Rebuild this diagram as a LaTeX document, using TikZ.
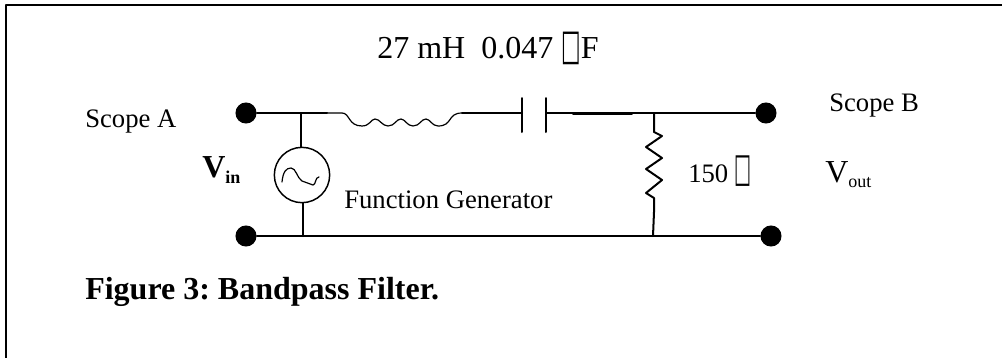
\documentclass[tikz,border=0pt]{standalone}
\usepackage{graphicx}
\usepackage{fontspec}
\setmainfont{Liberation Serif}
\newfontfamily\boxfont{DejaVu Sans}
\usepackage{tikz}
\newcommand{\boxglyph}[3]{\raisebox{#3}{\scalebox{#1}[#2]{\fontsize{10pt}{12pt}\boxfont\selectfont\symbol{"25A1}}}}
\tikzset{
  wire/.style={line width=1.5pt},
  thinwire/.style={line width=0.9pt},
  heavywire/.style={line width=2.2pt},
  terminal/.style={circle,fill=black,inner sep=0pt,minimum size=15.8pt},
  bigtext/.style={inner sep=0pt,anchor=base west,font=\fontsize{24pt}{26pt}\selectfont},
  smalltext/.style={inner sep=0pt,anchor=base west,font=\fontsize{20pt}{22pt}\selectfont},
}
\begin{document}
\begin{tikzpicture}[line cap=round,line join=round,x=0.75pt,y=-0.75pt]
\frenchspacing
\useasboundingbox (0,0) rectangle (1002,358);
\coordinate (corner) at (6,5);
\coordinate (topend) at (1002,5);
\coordinate (leftend) at (6,358);
\draw [line width=1.6pt,line cap=butt] (topend) -- (corner) -- (leftend);
% terminals
\node [terminal] (ina) at (246,113) {};
\node [terminal] (inb) at (246,236) {};
\node [terminal] (outa) at (766,113) {};
\node [terminal] (outb) at (771,236) {};
\node [circle,draw,line width=1.1pt,inner sep=0pt,minimum size=41.5pt] (gen) at (302,175) {};
\coordinate (topgen) at (301,113);
\coordinate (botgen) at (303,236);
\coordinate (lstart) at (327,113);
\coordinate (lend) at (462,113);
\coordinate (capl) at (522,113);
\coordinate (capr) at (546,113);
\coordinate (heavyl) at (573,113.5);
\coordinate (heavyr) at (632,113.5);
\coordinate (rtop) at (654,113);
\coordinate (rbot) at (653,236);
% wires
\draw [wire] (ina) -- (lstart);
\draw [wire] (topgen) -- (topgen |- gen.north);
\draw [wire] (botgen |- gen.south) -- (botgen);
\draw [wire] (inb) -- (outb);
\draw [wire] (lend) -- (capl);
\draw [wire] (capr) -- (outa);
\draw [heavywire] (heavyl) -- (heavyr);
\draw [wire] (rtop) -- (654,132) -- (662,136) -- (646,147) -- (662,158) -- (646,169) -- (662,180) -- (646,193) -- (654,198) -- (654,212) -- (rbot);
% capacitor plates
\draw [wire] (capl) ++(0,-15) -- ++(0,34);
\draw [wire] (capr) ++(0,-15) -- ++(0,34);
% inductor
\draw [thinwire] (lstart) -- (342,113) .. controls (350,113) and (348,126) .. (362,126) .. controls (370,126) and (371,119) .. (375,119) .. controls (380,119) and (382,126) .. (388,126) .. controls (395,126) and (396,119) .. (401,119) .. controls (405,119) and (407,126) .. (413,126) .. controls (420,126) and (421,119) .. (426,119) .. controls (430,119) and (432,126) .. (438,126) .. controls (453,126) and (447,113) .. (lend);
% generator wave
\draw [thinwire] (282,182) .. controls (283,172) and (286,168) .. (291,168) .. controls (296,168) and (297,178) .. (302,181) -- (313,185) .. controls (316,185) and (315,177) .. (319,177);
% labels
\node [bigtext] (value) at (377,58) {27 mH\ \ 0.047 \boxglyph{1.55}{3.2}{-1.05pt}F};
\node [smalltext] (scopea) at (85,127) {Scope A};
\node [smalltext] (scopeb) at (829,111) {Scope B};
\node [bigtext,font=\fontsize{24pt}{26pt}\selectfont\bfseries] (vin) at (202,177) {V\raisebox{-4.5pt}{\fontsize{13.5pt}{15pt}\selectfont in}};
\node [bigtext] (vout) at (825,182) {V\raisebox{-3.75pt}{\fontsize{13.5pt}{15pt}\selectfont out}};
\node [smalltext] (gentext) at (344,208) {Function Generator};
\node [smalltext] (ohm) at (688,182) {150 \boxglyph{1.35}{3.0}{0.45pt}};
\node [bigtext,font=\fontsize{24pt}{26pt}\selectfont\bfseries] (figtitle) at (85,299) {Figure 3: Bandpass Filter.};
\end{tikzpicture}
\end{document}
